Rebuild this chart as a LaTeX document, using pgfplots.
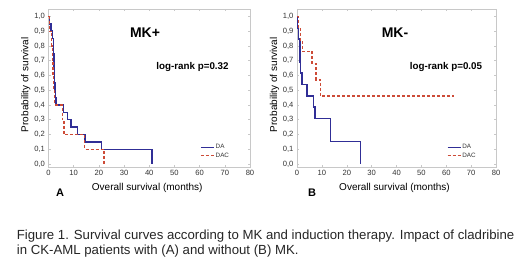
\documentclass[border=0pt]{standalone}
\usepackage{fontspec}
\setmainfont{Liberation Sans}
\usepackage{pgfplots}
\pgfplotsset{compat=1.18}
\definecolor{kmblue}{RGB}{48,46,150}
\definecolor{kmred}{RGB}{205,75,55}
\definecolor{boxgray}{RGB}{200,200,200}
\pgfplotsset{
  kmaxis/.style={
    scale only axis, width=201.5pt, height=158pt,
    xmin=0, xmax=80, ymin=-0.02, ymax=1.05,
    xtick={0,10,...,80}, ytick={0,0.1,...,1.0},
    axis line style={boxgray, line width=0.6pt},
    tick style={boxgray, line width=0.5pt},
    major tick length=2pt,
    tick align=inside,
    /pgf/number format/assume math mode=true,
    ticklabel style={font=\fontsize{7.6}{9}\selectfont, text=black!80},
    yticklabel style={/pgf/number format/.cd, use comma, fixed, fixed zerofill, precision=1},
    xticklabel style={/pgf/number format/.cd, fixed, precision=0},
    xlabel={Overall survival (months)},
    ylabel={Probability of survival},
    label style={font=\fontsize{8.6}{10}\selectfont, text=black!80},
    every axis x label/.style={at={(axis description cs:0.49,-0.133)}, anchor=center},
    every axis y label/.style={at={(axis description cs:-0.113,0.52)}, rotate=90, anchor=center},
    legend image code/.code={\draw[#1] (0pt,0pt) -- (13pt,0pt);},
    legend cell align=left,
    legend style={at={(axis description cs:0.752,0.15)}, anchor=north west, draw=none, fill=none,
      inner sep=0pt, row sep=0.5pt,
      nodes={inner sep=1pt, font=\fontsize{6.3}{7}\selectfont, text=black!80}},
    clip=false,
  },
  dastyle/.style={const plot, kmblue, line width=1.5pt, no marks},
  dacstyle/.style={const plot, kmred, line width=1.3pt, dash pattern=on 3pt off 2pt, no marks},
}
\begin{document}
\begin{tikzpicture}[x=1pt,y=1pt]
\useasboundingbox (0,0) rectangle (520,266);
\fill[white] (0,0) rectangle (520,266);
% Left panel (MK+)
\begin{axis}[kmaxis, at={(48.5pt,99pt)}, anchor=south west]
\addplot[dastyle] coordinates {
 (0,1) (0.4,0.95) (1.0,0.9) (1.5,0.85) (1.9,0.8) (2.0,0.75) (2.1,0.7) (2.2,0.65)
 (2.3,0.6) (2.4,0.55) (2.5,0.5) (2.7,0.45) (3.0,0.4) (6.0,0.35) (7.5,0.3)
 (9.0,0.25) (11.5,0.2) (14.5,0.15) (21.0,0.1) (41.0,0.0)};
\addlegendentry{DA}
\addplot[dacstyle] coordinates {
 (0,1) (0.3,0.9) (1.2,0.8) (1.5,0.7) (1.8,0.6) (2.1,0.5) (2.5,0.4)
 (5.5,0.3) (6.2,0.2) (14.3,0.1) (22,0)};
\addlegendentry{DAC}
\end{axis}
% Right panel (MK-)
\begin{axis}[kmaxis, at={(297pt,99pt)}, anchor=south west, width=199pt]
\addplot[dastyle] coordinates {
 (0,1) (0.2,0.923) (0.6,0.846) (1.2,0.769) (1.3,0.692) (1.5,0.615) (2.0,0.538)
 (4.0,0.462) (6.7,0.385) (7.3,0.308) (13.5,0.154) (25.5,0)};
\addlegendentry{DA}
\addplot[dacstyle] coordinates {
 (0,1) (0.5,0.917) (1.4,0.833) (2.1,0.764) (6.0,0.68) (7.6,0.57) (9.5,0.46) (63,0.46)};
\addlegendentry{DAC}
\end{axis}
% Panel texts
\node[font=\fontsize{14}{16}\selectfont\bfseries] at (145,233) {MK+};
\node[font=\fontsize{9.8}{11}\selectfont\bfseries] at (192.5,199) {log-rank p=0.32};
\node[font=\fontsize{11}{13}\selectfont\bfseries] at (60,73) {A};
\node[font=\fontsize{14}{16}\selectfont\bfseries] at (395,233) {MK-};
\node[font=\fontsize{9.8}{11}\selectfont\bfseries] at (446,199) {log-rank p=0.05};
\node[font=\fontsize{11}{13}\selectfont\bfseries] at (312,73) {B};
% Caption
\node[anchor=base west, inner sep=0pt, font=\fontsize{13.2}{15}\selectfont, text=black!85] at (16.7,27)
 {Figure 1. Survival curves according to MK and induction therapy. Impact of cladribine};
\node[anchor=base west, inner sep=0pt, font=\fontsize{13.2}{15}\selectfont, text=black!85] at (16.7,12)
 {in CK-AML patients with (A) and without (B) MK.};
\end{tikzpicture}
\end{document}
